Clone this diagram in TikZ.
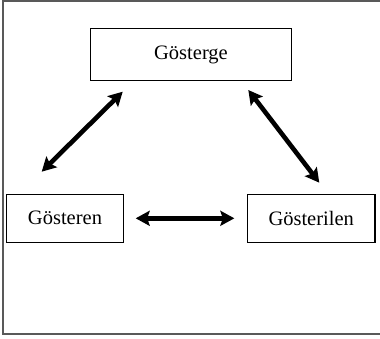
\documentclass[tikz,border=0pt]{standalone}
\usepackage{fontspec}
\setmainfont{Liberation Serif}
\usetikzlibrary{arrows.meta}
\tikzset{
  termbox/.style={draw, line width=1.4pt, font=\fontsize{20.5}{22}\selectfont, inner sep=0pt},
  link/.style={{Stealth[length=14pt,width=15pt,inset=2.5pt]}-{Stealth[length=14pt,width=15pt,inset=2.5pt]}, line width=4.6pt}
}
\begin{document}
\begin{tikzpicture}[x=1pt,y=-1pt]
      \useasboundingbox (0,0) rectangle (380,338);
      % frame (right edge is cut off)
      \draw[line width=1.5pt, black!65] (380,0.8) -- (3.2,0.8) -- (3.2,333.8) -- (380,333.8);
      \draw
        (191,54.5) node[termbox, minimum width=200.6pt, minimum height=52.4pt, text depth=4pt] (gosterge){Gösterge}
        (65,218.3) node[termbox, minimum width=116.6pt, minimum height=48pt] (gosteren){Gösteren}
        (311.2,218.3) node[termbox, minimum width=127.7pt, minimum height=48pt] (gosterilen){Gösterilen};
      \coordinate (l1) at (41.7,171.7);
      \coordinate (l2) at (122.7,91.7);
      \coordinate (r1) at (248.3,90);
      \coordinate (r2) at (319.3,182.7);
      \begin{scope}[link]
        \draw (l1) to (l2);
        \draw (r1) to (r2);
        \draw[shorten <=11.7pt, shorten >=12.3pt] (gosteren) to (gosterilen);
      \end{scope}
    \end{tikzpicture}
\end{document}
